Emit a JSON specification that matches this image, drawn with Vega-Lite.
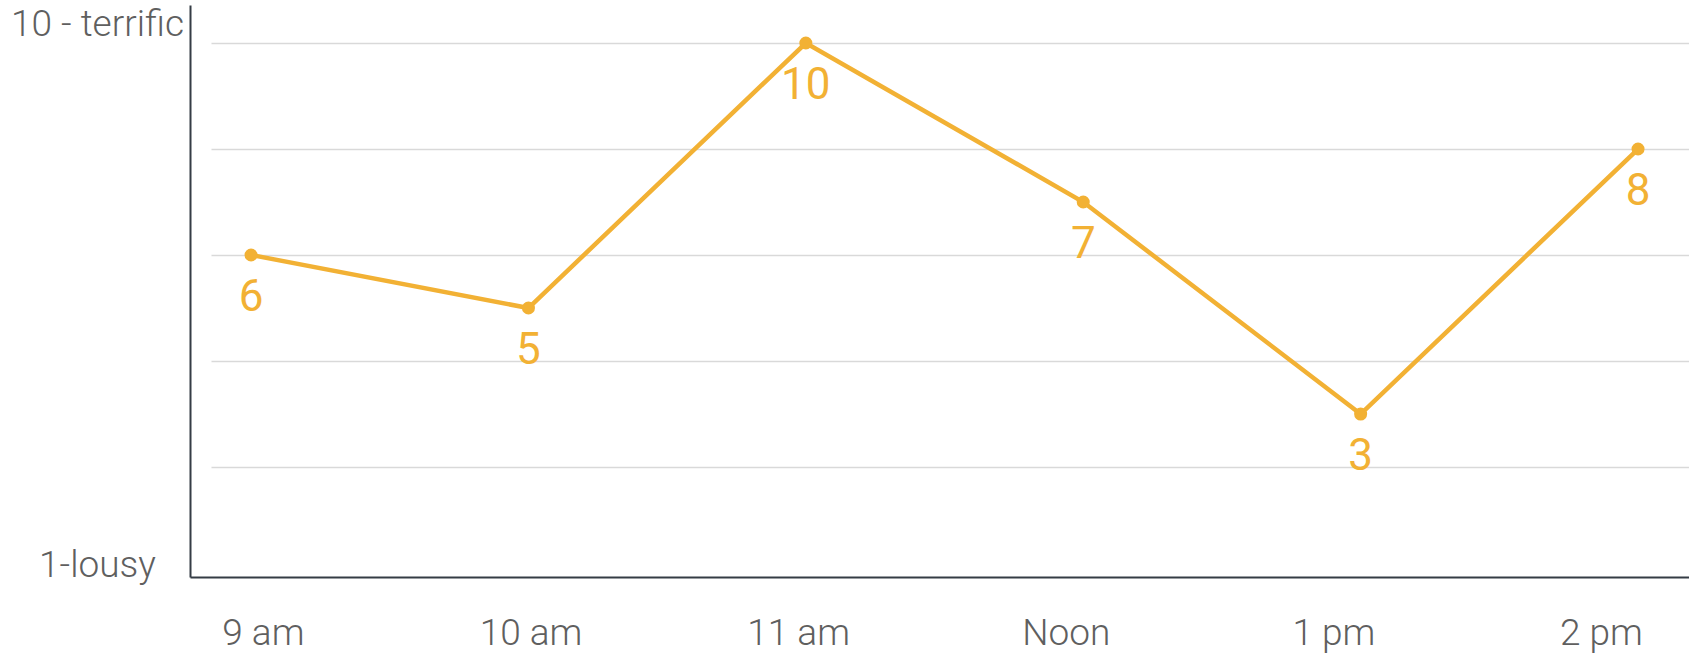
{
  "$schema": "https://vega.github.io/schema/vega-lite/v6.json",
  "width": 1499,
  "height": 572,
  "autosize": {"type": "none"},
  "padding": {"left": 190, "top": 5, "right": 0, "bottom": 78},
  "background": "white",
  "config": {"view": {"stroke": null}, "font": "Roboto"},
  "data": {"values": [
    {"time": "9 am", "score": 6},
    {"time": "10 am", "score": 5},
    {"time": "11 am", "score": 10},
    {"time": "Noon", "score": 7},
    {"time": "1 pm", "score": 3},
    {"time": "2 pm", "score": 8}
  ]},
  "resolve": {"scale": {"x": "independent"}, "axis": {"x": "independent", "y": "independent"}},
  "layer": [
    {
      "mark": {"type": "rule", "opacity": 0},
      "encoding": {
        "x": {"field": "time", "type": "ordinal", "sort": null,
          "scale": {"type": "point", "padding": 0.3008, "align": 0.453},
          "axis": {"title": null, "orient": "bottom", "domainColor": "#353c45", "domainWidth": 2, "ticks": false, "grid": false,
            "labelAngle": 0, "labelFont": "Roboto", "labelFontWeight": 300, "labelFontSize": 37, "labelColor": "#5f5f5f", "labelPadding": 38}},
        "y": {"field": "score", "type": "quantitative",
          "scale": {"domain": [-0.075, 10.717], "nice": false, "zero": false},
          "axis": {"title": null, "orient": "left", "values": [0.15, 10.35], "grid": false, "ticks": false,
            "domainColor": "#353c45", "domainWidth": 2,
            "labelExpr": "datum.value > 5 ? '10 - terrific' : '1-lousy'",
            "labelAlign": "center", "labelBaseline": "middle", "labelPadding": 93,
            "labelFont": "Roboto", "labelFontWeight": 300, "labelFontSize": 37, "labelColor": "#5f5f5f"}}
      }
    },
    {
      "encoding": {
        "x": {"field": "time", "type": "ordinal", "sort": null,
          "scale": {"type": "point", "padding": 0.2019, "align": 0.545},
          "axis": null},
        "y": {"field": "score", "type": "quantitative",
          "scale": {"domain": [-0.075, 10.717], "nice": false, "zero": false},
          "axis": {"title": null, "orient": "left", "values": [2, 4, 6, 8, 10], "grid": true, "gridColor": "#d9d9d9", "gridWidth": 1.5,
            "gridDash": [0, 21, 3000], "labels": false, "ticks": false, "domain": false}}
      },
      "layer": [
        {"mark": {"type": "line", "color": "#f2b134", "strokeWidth": 4.5}},
        {"mark": {"type": "point", "filled": true, "color": "#f2b134", "size": 170, "opacity": 1}},
        {
          "mark": {"type": "text", "color": "#f2b134", "fontSize": 44, "font": "Roboto", "baseline": "middle", "dy": 43},
          "encoding": {"text": {"field": "score", "type": "quantitative"}}
        }
      ]
    }
  ]
}
